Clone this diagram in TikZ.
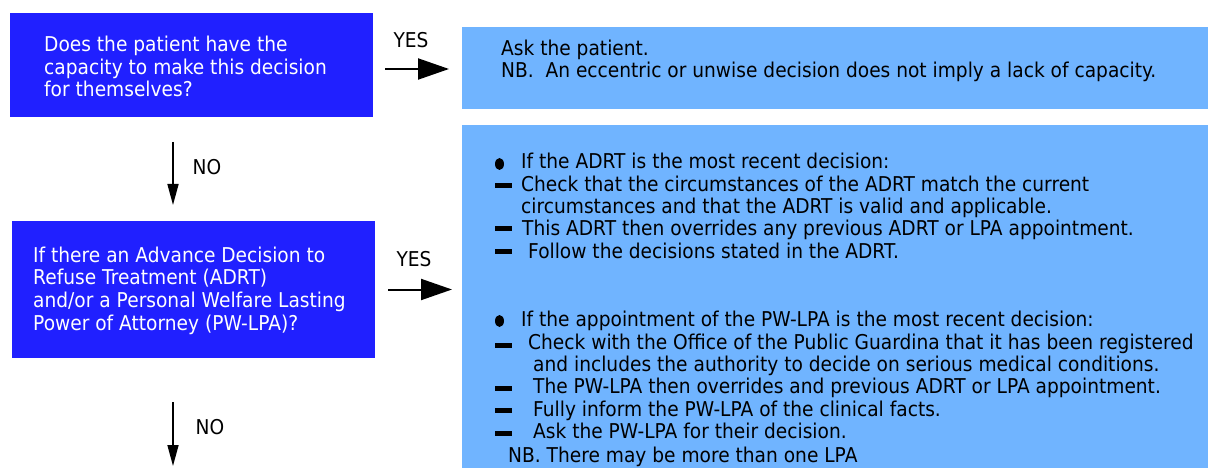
\documentclass[tikz,border=0pt]{standalone}
\usepackage{fontspec}
\setmainfont{DejaVu Sans}[FakeStretch=0.912]
\usetikzlibrary{arrows.meta}
\definecolor{dblue}{RGB}{32,32,255}
\definecolor{lblue}{RGB}{112,180,255}
\begin{document}
\begin{tikzpicture}[x=1pt,y=-1pt,
  dark/.style={fill=dblue, draw=none, inner sep=0pt, outer sep=0pt},
  light/.style={fill=lblue, draw=none, inner sep=0pt, outer sep=0pt},
  wtxt/.style={anchor=base west, inner sep=0pt, text=white, font=\fontsize{20.4}{24}\selectfont},
  btxt/.style={anchor=base west, inner sep=0pt, text=black, font=\fontsize{20.4}{24}\selectfont},
  lbl/.style={anchor=base, inner sep=0pt, text=black, font=\fontsize{20.4}{24}\selectfont},
  bigarrow/.style={line width=2pt, -{Triangle[length=31pt,width=21pt]}},
  smallarrow/.style={line width=1.6pt, -{Triangle[length=21pt,width=11pt]}},
  bullet/.style={fill=black},
]
\useasboundingbox (0,0) rectangle (1208,468);

% boxes
\node[dark, minimum width=363pt, minimum height=104pt] (q1) at (191.5,65) {};
\node[dark, minimum width=363pt, minimum height=137pt] (q2) at (193.5,289.5) {};
\node[light, minimum width=746pt, minimum height=82pt] (a1) at (835,68) {};
\node[light, minimum width=746pt, minimum height=343pt] (a2) at (835,296.5) {};

% helper coordinates
\coordinate (y1) at (0,69);
\coordinate (x1) at (173,0);
\coordinate (end) at (173,466);

% arrows
\draw[bigarrow, shorten <=12pt, shorten >=13pt] (q1.east |- y1) -- (a1.west |- y1);
\draw[bigarrow, shorten <=13pt, shorten >=10pt] (q2.east) -- (q2.east -| a2.west);
\draw[smallarrow, shorten <=25pt, shorten >=16pt] (q1.south -| x1) -- (q2.north -| x1);
\draw[smallarrow, shorten <=44pt] (q2.south -| x1) -- (end);

% labels
\node[lbl] (yes1) at (411,48) {YES};
\node[lbl] (yes2) at (414,266) {YES};
\node[lbl] (no1) at (207,175) {NO};
\node[lbl] (no2) at (210,434) {NO};

% box 1 text
\node[wtxt] (q1a) at (44,52) {Does the patient have the};
\node[wtxt] (q1b) at (44,74.5) {capacity to make this decision};
\node[wtxt] (q1c) at (44,97) {for themselves?};

% box 4 text
\node[wtxt] (q2a) at (33,262) {If there an Advance Decision to};
\node[wtxt] (q2b) at (33,284.5) {Refuse Treatment (ADRT)};
\node[wtxt] (q2c) at (33,307) {and/or a Personal Welfare Lasting};
\node[wtxt] (q2d) at (33,330) {Power of Attorney (PW-LPA)?};

% box 2 text
\node[btxt] (a1a) at (501,56) {Ask the patient.};
\node[btxt] (a1b) at (501,78) {NB.\ \ An eccentric or unwise decision does not imply a lack of capacity.};

% box 3 text
\fill[bullet] (499.5,164) ellipse (4.5 and 6);
\fill[bullet] (495,183.5) rectangle (512,188.5);
\fill[bullet] (495,226) rectangle (512,231);
\fill[bullet] (495,249) rectangle (512,254);
\node[btxt] (l1) at (521,168) {If the ADRT is the most recent decision:};
\node[btxt] (l2) at (521,191) {Check that the circumstances of the ADRT match the current};
\node[btxt] (l3) at (521,213) {circumstances and that the ADRT is valid and applicable.};
\node[btxt] (l4) at (522,235) {This ADRT then overrides any previous ADRT or LPA appointment.};
\node[btxt] (l5) at (528,258) {Follow the decisions stated in the ADRT.};

\fill[bullet] (499.5,321) ellipse (4.5 and 6);
\fill[bullet] (495,343) rectangle (512,347.5);
\fill[bullet] (495,386) rectangle (512,391);
\fill[bullet] (495,408) rectangle (512,413);
\fill[bullet] (495,431) rectangle (512,436);
\node[btxt] (m1) at (521,326) {If the appointment of the PW-LPA is the most recent decision:};
\node[btxt] (m2) at (528,349) {Check with the Office of the Public Guardina that it has been registered};
\node[btxt] (m3) at (533,371) {and includes the authority to decide on serious medical conditions.};
\node[btxt] (m4) at (533,393) {The PW-LPA then overrides and previous ADRT or LPA appointment.};
\node[btxt] (m5) at (533,416) {Fully inform the PW-LPA of the clinical facts.};
\node[btxt] (m6) at (533,438) {Ask the PW-LPA for their decision.};
\node[btxt] (m7) at (508,462) {NB. There may be more than one LPA};
\end{tikzpicture}
\end{document}
